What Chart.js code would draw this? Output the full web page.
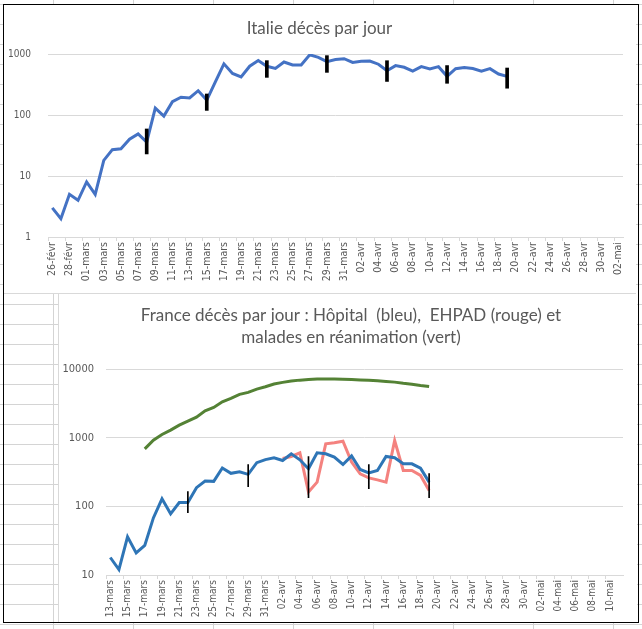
<!DOCTYPE html>
<html>
<head>
<meta charset="utf-8">
<script src="https://cdn.jsdelivr.net/npm/chart.js@4.4.1/dist/chart.umd.min.js"></script>
<style>
  html, body { margin: 0; padding: 0; background: #fff; }
  #sheet {
    position: relative; width: 642px; height: 629px; overflow: hidden;
    background-color: #fff;
    background-image:
      repeating-linear-gradient(to bottom, transparent 0, transparent 4px, #d4d4d4 4px, #d4d4d4 5px, transparent 5px, transparent 20px),
      repeating-linear-gradient(to right, transparent 0, transparent 53px, #d4d4d4 53px, #d4d4d4 54px, transparent 54px, transparent 80px);
  }
  .box { position: absolute; background: #fff; }
  #top { left: 3px; top: 4px; width: 633px; height: 289px; border-bottom: 1px solid #d9d9d9; }
  #bottom { left: 58px; top: 294px; width: 578px; height: 329px; border-left: 1px solid #d9d9d9; }
  #frame { position: absolute; left: 3px; top: 4px; width: 636px; height: 619px; border: 1px solid #000; box-sizing: border-box; pointer-events: none; }
</style>
</head>
<body>
<div id="sheet">
  <div class="box" id="top"><canvas id="italie"></canvas></div>
  <div class="box" id="bottom"><canvas id="france"></canvas></div>
  <div id="frame"></div>
</div>
<script>
// libelles des jours
function jours(mois, de, a) {
  var out = [];
  for (var d = de; d <= a; d++) out.push((d < 10 ? '0' : '') + d + '-' + mois);
  return out;
}
var italieLabels = [].concat(jours('févr', 26, 29), jours('mars', 1, 31), jours('avr', 1, 30), jours('mai', 1, 2));
var franceLabels = [].concat(jours('mars', 13, 31), jours('avr', 1, 30), jours('mai', 1, 11));

// Italie : deces par jour (26 fevr -> 19 avr)
var italieDeces = [3, 2, 5, 4, 8, 5, 18, 27, 28, 40, 49, 36, 130, 96, 165, 196, 190, 250, 176, 350,
  690, 480, 420, 630, 780, 630, 580, 740, 660, 660, 970, 880, 750, 810, 837, 727, 760, 766, 680, 533,
  645, 605, 525, 620, 570, 620, 430, 575, 602, 578, 525, 575, 470, 430];
// reperes hebdomadaires (dimanche) [bas, haut]
var italieReperes = {11: [23, 59], 18: [119, 221], 25: [414, 778], 32: [500, 940], 39: [355, 776], 46: [331, 646], 53: [275, 589]};
var italieTicks = [1, 10, 100, 1000];

// France (13 mars -> 19 avr)
var franceHopital = [18, 12, 36, 21, 27, 68, 129, 78, 114, 114, 188, 235, 232, 364, 304, 321, 294, 435, 482, 512,
  468, 585, 479, 354, 605, 585, 523, 409, 547, 346, 309, 334, 535, 512, 418, 418, 362, 226];
var franceEhpad = [null, null, null, null, null, null, null, null, null, null, null, null, null, null, null, null, null, null, null, null,
  500, 535, 605, 162, 226, 818, 846, 894, 443, 299, 261, 244, 226, 914, 334, 334, 283, 171];
var franceReanimation = [null, null, null, null, 690, 924, 1119, 1295, 1531, 1753, 2005, 2483, 2780, 3365, 3765, 4305, 4600, 5150, 5570, 6100,
  6450, 6750, 6950, 7100, 7200, 7200, 7200, 7150, 7100, 7000, 6900, 6800, 6650, 6500, 6250, 6050, 5800, 5600];
var franceReperes = {9: [81, 164], 16: [194, 407], 23: [134, 533], 30: [182, 407], 37: [134, 301]};
var franceTicks = [10, 100, 1000, 10000];

var gris = '#595959';
var grille = '#d9d9d9';
var police = "'Liberation Sans Narrow', 'DejaVu Sans Condensed', sans-serif";
var policeTitre = "Lato, 'Open Sans', sans-serif";

function reperes(map, n) {
  var arr = [];
  for (var i = 0; i < n; i++) arr.push(map[i] ? map[i] : null);
  return arr;
}

// titre centre sur toute la largeur du graphique (comme Excel)
var titreCentre = {
  id: 'titreCentre',
  afterLayout: function(chart, args, opts) {
    var t = chart.titleBlock;
    if (!t) return;
    t.left = (opts.dx || 0);
    t.right = chart.width + (opts.dx || 0);
  }
};

function options(cfg) {
  var n = cfg.labels.length;
  return {
    responsive: true,
    maintainAspectRatio: false,
    animation: false,
    layout: { padding: { left: 0, right: cfg.right, top: 0, bottom: 0 } },
    plugins: {
      legend: { display: false },
      tooltip: { enabled: false },
      titreCentre: { dx: cfg.titleDx },
      title: {
        display: true,
        text: cfg.title,
        color: gris,
        font: { family: policeTitre, size: cfg.titleSize, weight: 'normal', lineHeight: cfg.titleLine },
        padding: { top: cfg.titleTop, bottom: cfg.titleBottom }
      }
    },
    scales: {
      x: {
        type: 'category',
        offset: true,
        grid: {
          offset: true,
          drawOnChartArea: false,
          drawTicks: true,
          tickLength: 4,
          color: function(ctx) { return (ctx.index % 2 === 0 || ctx.index === n) ? grille : 'rgba(0,0,0,0)'; }
        },
        border: { display: true, color: grille },
        ticks: {
          autoSkip: false,
          minRotation: 90,
          maxRotation: 90,
          padding: 1,
          color: gris,
          font: { family: police, size: cfg.xFont },
          callback: function(v, i) { return i % 2 === 0 ? this.getLabelForValue(v) : ''; }
        },
        afterFit: function(s) { s.height = cfg.xHeight; }
      },
      y: {
        type: 'logarithmic',
        min: cfg.yTicks[0],
        max: cfg.yTicks[cfg.yTicks.length - 1],
        grid: { color: grille, drawTicks: false },
        border: { display: false },
        ticks: {
          color: gris,
          padding: cfg.yPad,
          font: { family: police, size: cfg.yFont },
          callback: function(v) { return String(v); }
        },
        afterBuildTicks: function(s) { s.ticks = cfg.yTicks.map(function(v) { return { value: v }; }); },
        afterFit: function(s) { s.width = cfg.yWidth; }
      }
    }
  };
}

new Chart(document.getElementById('italie'), {
  type: 'line',
  plugins: [titreCentre],
  data: {
    labels: italieLabels,
    datasets: [
      { type: 'bar', data: reperes(italieReperes, italieLabels.length), backgroundColor: '#000', barThickness: 3, order: 0 },
      { label: 'Italie', data: italieDeces, borderColor: '#4472C4', borderWidth: 3, pointRadius: 0, tension: 0, order: 1 }
    ]
  },
  options: options({
    labels: italieLabels, title: 'Italie décès par jour', titleSize: 17, titleLine: 1.2, titleTop: 14, titleBottom: 15.6,
    titleDx: 0, right: 13, xFont: 10.5, xHeight: 56, yTicks: italieTicks, yFont: 10, yPad: 17, yWidth: 45
  })
});

new Chart(document.getElementById('france'), {
  type: 'line',
  plugins: [titreCentre],
  data: {
    labels: franceLabels,
    datasets: [
      { type: 'bar', data: reperes(franceReperes, franceLabels.length), backgroundColor: '#000', barThickness: 1, order: 0 },
      { label: 'Hôpital', data: franceHopital, borderColor: '#2E75B6', borderWidth: 3, pointRadius: 0, tension: 0, order: 1 },
      { label: 'EHPAD', data: franceEhpad, borderColor: '#F4827F', borderWidth: 3, pointRadius: 0, tension: 0, order: 2 },
      { label: 'Réanimation', data: franceReanimation, borderColor: '#548235', borderWidth: 3, pointRadius: 0, tension: 0, order: 3 }
    ]
  },
  options: options({
    labels: franceLabels,
    title: ['France décès par jour : Hôpital  (bleu),  EHPAD (rouge) et', 'malades en réanimation (vert)'],
    titleSize: 17, titleLine: 1.294, titleTop: 11, titleBottom: 20.3,
    titleDx: 3, right: 14, xFont: 10, xHeight: 48, yTicks: franceTicks, yFont: 11, yPad: 12, yWidth: 47
  })
});
</script>
</body>
</html>
